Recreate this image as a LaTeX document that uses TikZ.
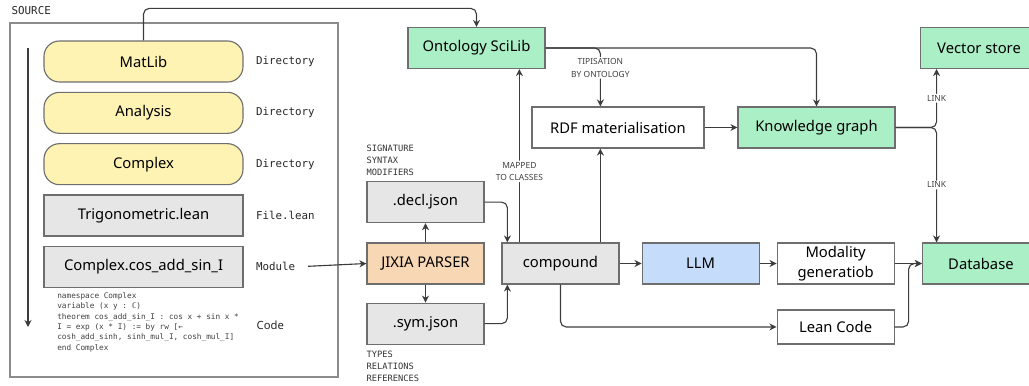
\documentclass[tikz,border=0pt]{standalone}
\usepackage{fontspec}
\setmainfont{Noto Sans}
\setsansfont{Noto Sans}
\setmonofont{DejaVu Sans Mono}
\usepackage{tikz}
\usetikzlibrary{arrows.meta,positioning,calc}

\definecolor{dirfill}{HTML}{FEF3B3}
\definecolor{filefill}{HTML}{E6E6E6}
\definecolor{storefill}{HTML}{ABEFC6}
\definecolor{llmfill}{HTML}{C6DCFB}
\definecolor{parserfill}{HTML}{F8D7B5}
\definecolor{edgegray}{HTML}{6E6E6E}
\definecolor{wiregray}{HTML}{3C3C3C}

\tikzset{
  box/.style={rectangle, draw=edgegray, fill=#1, line width=0.8pt,
              minimum height=1.025cm, minimum width=2.925cm, text centered,
              font=\fontsize{10.5}{14}\selectfont, inner sep=2pt},
  box/.default=white,
  dirbox/.style={box=dirfill, rounded corners=11pt, minimum width=4.975cm},
  lbl/.style={font=\fontsize{7.7}{9}\ttfamily, anchor=west, inner sep=1pt, text=black!85},
  tag/.style={font=\fontsize{6.2}{8.7}\ttfamily, align=left, inner sep=0pt, text=black!80},
  note/.style={font=\fontsize{6}{9}\sffamily, text=black!75, fill=white, inner sep=1pt, align=center},
  arr/.style={-{Stealth[length=5pt,width=5pt]}, line width=0.8pt, draw=wiregray, rounded corners=4pt},
}

\begin{document}
\begin{tikzpicture}[x=0.025cm, y=-0.025cm]
\useasboundingbox (0,0) rectangle (1029,386);

% Source tree
\node[lbl] (srclbl) at (10,11) {SOURCE};
\draw[draw=edgegray!80, line width=0.8pt] (10,23) rectangle (338,377);
\draw[arr] (28,48) -- (28,327);

\node[dirbox] (matlib) at (143.5,61.5) {MatLib};
\node[dirbox, below=0.23cm of matlib] (analysis) {Analysis};
\node[dirbox, below=0.23cm of analysis] (complex) {Complex};
\node[box=filefill, minimum width=4.975cm, below=0.23cm of complex] (trig) {Trigonometric.lean};
\node[box=filefill, minimum width=4.975cm, below=0.23cm of trig] (module) {Complex.cos\_add\_sin\_I};

\node[lbl, right=0.27cm of matlib] (lmatlib) {Directory};
\node[lbl, right=0.27cm of analysis] (lanalysis) {Directory};
\node[lbl, right=0.27cm of complex] (lcomplex) {Directory};
\node[lbl, right=0.27cm of trig] (ltrig) {File.lean};
\node[lbl, right=0.27cm of module] (lmodule) {Module};

\node[font=\fontsize{5.5}{7.4}\ttfamily, align=left, anchor=north west, inner sep=0pt, text=black!75] (code) at (57,292)
  {namespace Complex\\
   variable (x y : ℂ)\\
   theorem cos\_add\_sin\_I : cos x + sin x *\\
   I = exp (x * I) := by rw [←\\
   cosh\_add\_sinh, sinh\_mul\_I, cosh\_mul\_I]\\
   end Complex};
\node[lbl, font=\fontsize{8}{9}\sffamily] (lcode) at (255,325) {Code};

% Parser and its outputs
\node[box=parserfill] (jixia) at (425.5,263.5) {JIXIA PARSER};
\node[box=filefill, above=0.48cm of jixia] (decl) {.decl.json};
\node[box=filefill, below=0.45cm of jixia] (sym) {.sym.json};
\node[tag, anchor=south west] (decltag) at ($(decl.north west)+(0,-5)$) {SIGNATURE\\SYNTAX\\MODIFIERS};
\node[tag, anchor=north west] (symtag) at ($(sym.south west)+(0,6)$) {TYPES\\RELATIONS\\REFERENCES};

% Main pipeline
\node[box=filefill, right=0.42cm of jixia] (compound) {compound};
\node[box=llmfill, right=0.55cm of compound] (llm) {LLM};
\node[box, right=0.42cm of llm, align=center] (modality) {Modality\\generatiob};
\node[box=storefill, right=0.68cm of modality] (database) {Database};
\node[box, minimum height=0.85cm, below=0.62cm of modality] (lean) {Lean Code};

% Ontology side
\node[box=storefill, minimum width=3.425cm] (onto) at (476.5,48) {Ontology SciLib};
\node[box, minimum width=4.3cm] (rdf) at (618,127.5) {RDF materialisation};
\node[box=storefill, minimum width=3.925cm, right=0.82cm of rdf] (kg) {Knowledge graph};
\node[box=storefill] (vector) at (979,48) {Vector store};

\coordinate (tomap) at ($(compound.north west)+(18,0)$);
\coordinate (tordf) at ($(compound.north west)+(99,0)$);
\coordinate (split) at ($(kg.east)+(41,0)$);

% Connectors
\draw[arr] (matlib.north) -- ++(0,-32) -| (onto.north);
\draw[arr, shorten <=8pt] (lmodule.east) -- (jixia.west);
\draw[arr] (jixia.north) -- (decl.south);
\draw[arr] (jixia.south) -- (sym.north);
\draw[arr] (decl.east) -| ($(compound.north west)+(6,0)$);
\draw[arr] (sym.east) -| ($(compound.south west)+(6,0)$);
\draw[arr] (tomap) -- node[note, pos=0.41] {MAPPED\\TO CLASSES} (tomap |- onto.south);
\draw[arr] (tordf) -- (tordf |- rdf.south);
\draw[arr] (onto.east) -| node[note, pos=0.67] {TIPISATION\\BY ONTOLOGY} (tordf |- rdf.north);
\draw[arr] (onto.east) -| (kg.north);
\draw[arr] (rdf.east) -- (kg.west);
\draw[arr] (kg.east) -| node[note, pos=0.75] {LINK} (split |- vector.south);
\draw[arr] (kg.east) -| node[note, pos=0.75] {LINK} (split |- database.north);
\draw[arr] (compound.east) -- (llm.west);
\draw[arr] (llm.east) -- (modality.west);
\draw[arr] (modality.east) -- (database.west);
\draw[arr] (compound.south) |- (lean.west);
\draw[arr] (lean.east) -- ++(14,0) |- (database.west);

\end{tikzpicture}
\end{document}
